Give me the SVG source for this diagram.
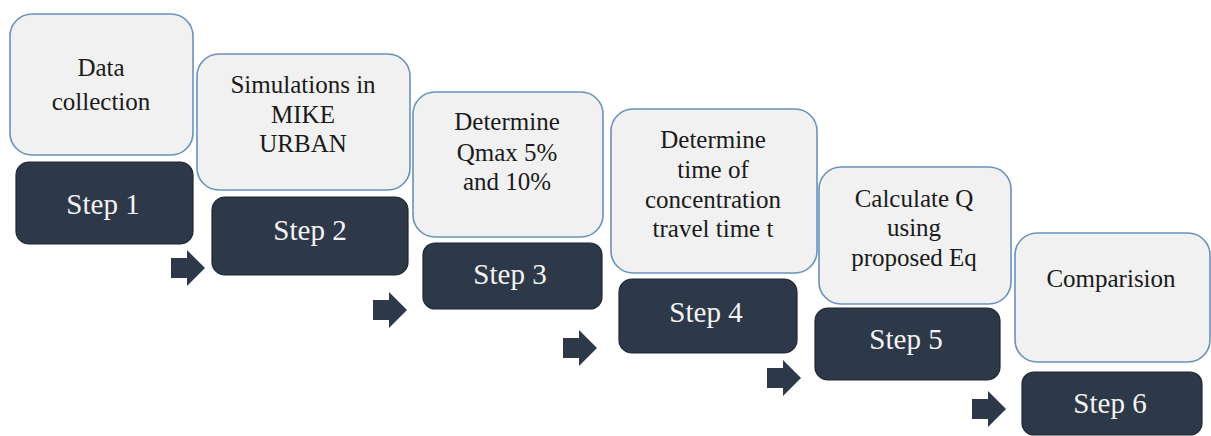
<svg xmlns="http://www.w3.org/2000/svg" width="1211" height="436" viewBox="0 0 1211 436">
<defs>
<style>
.card{fill:#f1f1f1;stroke:#6a92bd;stroke-width:1.6}
.step{fill:#2d3849;stroke:#1e2631;stroke-width:1.2}
.t{font-size:25px;fill:#1a1a1a;text-anchor:middle}
.s{font-size:29px;fill:#f4f4f4;text-anchor:middle}
.arr{fill:#2d3849}
</style>
<path id="arrow" d="M0,-10 H16 V-18 L34,0 L16,18 V10 H0 Z"/>
</defs>
<rect width="1211" height="436" fill="#ffffff"/>
<g font-family="Liberation Serif, DejaVu Serif, serif">
<g id="node1">
<rect class="card" x="10" y="14" width="183" height="141" rx="22"/>
<text class="t"><tspan x="101" y="76">Data</tspan><tspan x="101" y="110">collection</tspan></text>
<rect class="step" x="16" y="162" width="177" height="82" rx="13"/>
<text class="s" x="103" y="214">Step 1</text>
</g>
<g id="node2">
<rect class="card" x="197" y="54" width="213" height="136" rx="22"/>
<text class="t"><tspan x="303" y="93">Simulations in</tspan><tspan x="303" y="123">MIKE</tspan><tspan x="303" y="152">URBAN</tspan></text>
<rect class="step" x="212" y="197" width="196" height="78" rx="13"/>
<text class="s" x="310" y="240">Step 2</text>
</g>
<g id="node3">
<rect class="card" x="413" y="92" width="190" height="145" rx="22"/>
<text class="t"><tspan x="507" y="130">Determine</tspan><tspan x="507" y="161">Qmax 5%</tspan><tspan x="507" y="190">and 10%</tspan></text>
<rect class="step" x="423" y="243" width="179" height="66" rx="12"/>
<text class="s" x="510" y="284">Step 3</text>
</g>
<g id="node4">
<rect class="card" x="611" y="109" width="206" height="164" rx="22"/>
<text class="t"><tspan x="713" y="148">Determine</tspan><tspan x="713" y="178">time of</tspan><tspan x="713" y="208">concentration</tspan><tspan x="713" y="237">travel time t</tspan></text>
<rect class="step" x="619" y="279" width="178" height="74" rx="13"/>
<text class="s" x="706" y="322">Step 4</text>
</g>
<g id="node5">
<rect class="card" x="819" y="167" width="192" height="137" rx="22"/>
<text class="t"><tspan x="914" y="207">Calculate  Q</tspan><tspan x="914" y="236">using</tspan><tspan x="914" y="266">proposed Eq</tspan></text>
<rect class="step" x="815" y="308" width="185" height="72" rx="13"/>
<text class="s" x="906" y="349">Step 5</text>
</g>
<g id="node6">
<rect class="card" x="1015" y="233" width="195" height="129" rx="22"/>
<text class="t" x="1111" y="287">Comparision</text>
<rect class="step" x="1022" y="372" width="180" height="63" rx="12"/>
<text class="s" x="1110" y="413">Step 6</text>
</g>
</g>
<g id="connectors">
<use href="#arrow" class="arr" x="171" y="268"/>
<use href="#arrow" class="arr" x="373" y="310"/>
<use href="#arrow" class="arr" x="563" y="348"/>
<use href="#arrow" class="arr" x="767" y="378"/>
<use href="#arrow" class="arr" x="972" y="409"/>
</g>
</svg>
